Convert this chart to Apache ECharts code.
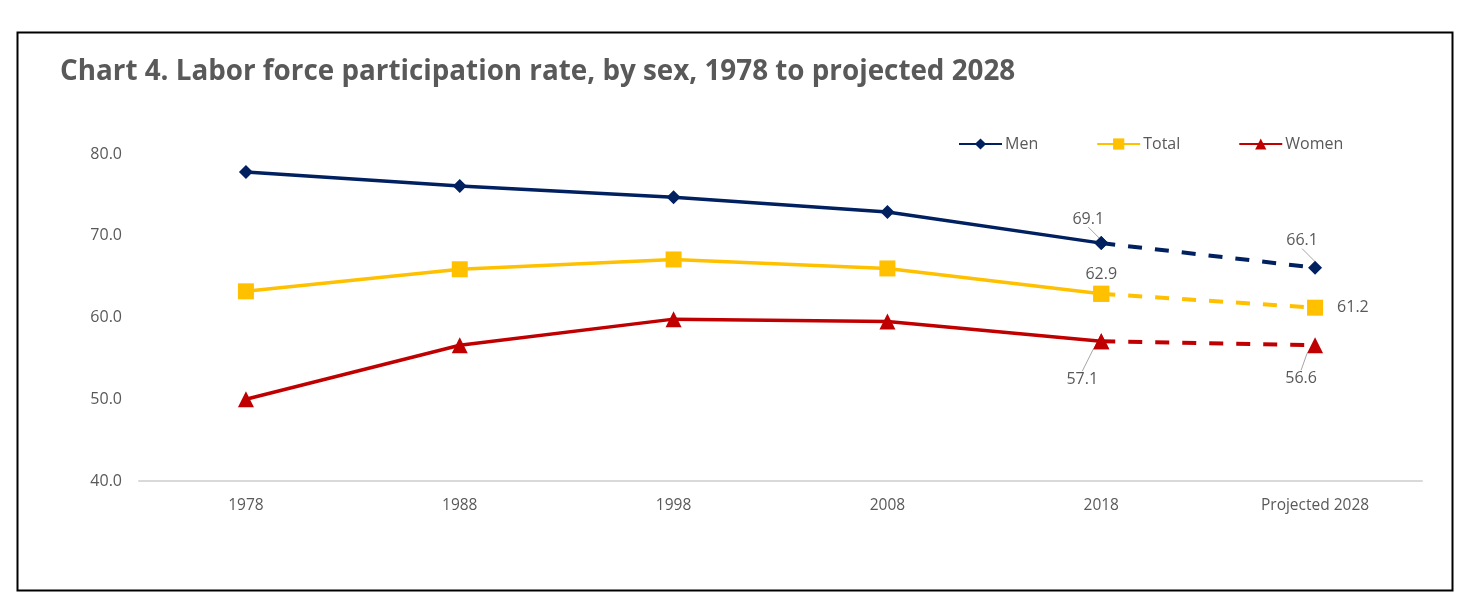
<!DOCTYPE html>
<html>
<head>
<meta charset="utf-8">
<script src="https://cdn.jsdelivr.net/npm/echarts@6/dist/echarts.min.js"></script>
<style>
html,body{margin:0;padding:0;background:#fff;}
#chart{width:1462px;height:608px;}
</style>
</head>
<body>
<div id="chart"></div>
<script>
var categories = ['1978','1988','1998','2008','2018','Projected 2028'];
var men   = [77.8, 76.1, 74.7, 72.9, 69.1, 66.1];
var total = [63.2, 65.9, 67.1, 66.0, 62.9, 61.2];
var women = [50.0, 56.6, 59.8, 59.5, 57.1, 56.6];
var yTicks = [40, 50, 60, 70, 80];

var FONT = '"Open Sans", "Liberation Sans", sans-serif';
var GRAY = '#595959';

function solidPart(arr){ return arr.map(function(v,i){ return i <= 4 ? v : null; }); }
function dashPart(arr){ return arr.map(function(v,i){ return i >= 4 ? v : null; }); }

function labelled(arr, cfg){
  return arr.map(function(v,i){
    if (v === null) return null;
    if (cfg[i]) return { value: v, label: Object.assign({show:true}, cfg[i].label), labelLine: cfg[i].labelLine };
    return v;
  });
}

var labelBase = { color: GRAY, fontSize: 16, fontFamily: FONT, formatter: function(p){ return p.value.toFixed(1); } };

function mk(name, color, symbol, size, arr, labCfg){
  var common = {
    type: 'line', symbol: symbol, symbolSize: size, color: color,
    itemStyle: { color: color },
    label: Object.assign({ show: false }, labelBase),
    labelLine: { show: false, lineStyle: { color: '#a6a6a6', width: 1 } },
    z: 3, animation: false, connectNulls: false
  };
  var solid = Object.assign({}, common, {
    name: name,
    data: solidPart(arr),
    lineStyle: { color: color, width: 3.5 }
  });
  var dashed = Object.assign({}, common, {
    name: name + ' (projected)',
    data: labelled(dashPart(arr), labCfg),
    lineStyle: { color: color, width: 4, type: [14, 13] },
    labelLayout: function(p){
      var c = labCfg[p.dataIndex];
      if (!c || !c.layout) return {};
      return { dx: c.layout.dx, dy: c.layout.dy };
    }
  });
  return [solid, dashed];
}

var series = [].concat(
  mk('Men', '#002060', 'diamond', 14, men, {
    4: { label: { position: 'top' }, layout: { dx: -13, dy: -4 }, labelLine: { show: true } },
    5: { label: { position: 'top' }, layout: { dx: -13, dy: -7 }, labelLine: { show: true } }
  }),
  mk('Total', '#FFC000', 'rect', 16, total, {
    4: { label: { position: 'top', distance: 3 } },
    5: { label: { position: 'right', distance: 14 } }
  }),
  mk('Women', '#C00000', 'triangle', 16, women, {
    4: { label: { position: 'bottom' }, layout: { dx: -19, dy: 17 }, labelLine: { show: true } },
    5: { label: { position: 'bottom' }, layout: { dx: -14, dy: 12 }, labelLine: { show: true } }
  })
);

var chart = echarts.init(document.getElementById('chart'), null, { renderer: 'canvas' });
chart.setOption({
  backgroundColor: '#fff',
  animation: false,
  title: {
    text: 'Chart 4. Labor force participation rate, by sex, 1978 to projected 2028',
    left: 55, top: 53,
    textStyle: { fontFamily: '"Open Sans", sans-serif', fontWeight: 'bold', fontSize: 27.8, color: GRAY }
  },
  graphic: [{
    type: 'rect', left: 15, top: 30,
    shape: { width: 1435, height: 558 },
    style: { fill: 'none', stroke: '#000', lineWidth: 2 },
    silent: true
  }],
  legend: {
    data: ['Men', 'Total', 'Women'],
    left: 953, top: 131,
    itemWidth: 43, itemHeight: 14, itemGap: 58,
    textStyle: { fontFamily: FONT, fontSize: 16, color: GRAY, padding: [0,0,0,-2] }
  },
  grid: { left: 139, right: 40, top: 154, bottom: 127, containLabel: false },
  xAxis: {
    type: 'category', data: categories, boundaryGap: true,
    axisLine: { show: true, lineStyle: { color: '#d9d9d9', width: 2 } },
    axisTick: { show: false },
    axisLabel: { color: GRAY, fontFamily: FONT, fontSize: 15.5, margin: 17 },
    splitLine: { show: false }
  },
  yAxis: {
    type: 'value', min: yTicks[0], max: yTicks[yTicks.length-1], interval: 10,
    axisLine: { show: false }, axisTick: { show: false },
    splitLine: { show: false },
    axisLabel: { color: GRAY, fontFamily: FONT, fontSize: 16, margin: 17, formatter: function(v){ return v.toFixed(1); } }
  },
  series: series
});
</script>
</body>
</html>
